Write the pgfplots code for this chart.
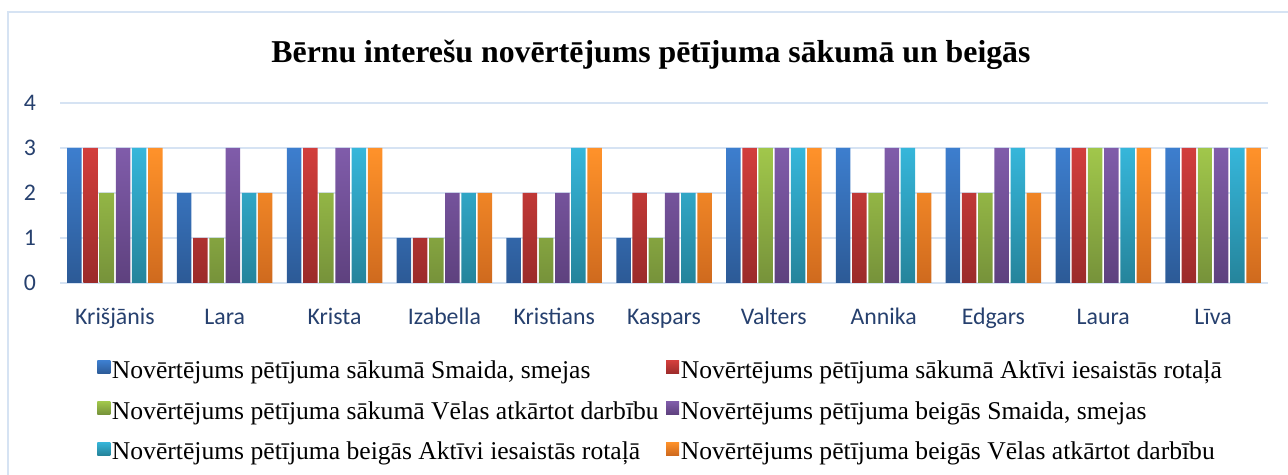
\documentclass[border=0pt]{standalone}
\usepackage{pgfplots}
\pgfplotsset{compat=1.18}
\usepackage{fontspec}
\setmainfont{Liberation Serif}
\newfontfamily\calfont{Carlito}
\definecolor{gridc}{RGB}{214,227,243}
\definecolor{labc}{RGB}{38,64,110}
\definecolor{bT}{RGB}{61,126,206}\definecolor{bB}{RGB}{44,90,150}
\definecolor{rT}{RGB}{210,62,60}\definecolor{rB}{RGB}{155,43,42}
\definecolor{gT}{RGB}{161,199,75}\definecolor{gB}{RGB}{118,146,58}
\definecolor{pT}{RGB}{128,92,170}\definecolor{pB}{RGB}{94,65,126}
\definecolor{cT}{RGB}{54,182,218}\definecolor{cB}{RGB}{37,132,155}
\definecolor{oT}{RGB}{255,146,42}\definecolor{oB}{RGB}{207,106,30}
\pgfplotsset{
  mybar/.style={draw=none, top color=#1T, bottom color=#1B},
}
\begin{document}
\begin{tikzpicture}
\useasboundingbox (0,0) rectangle (644pt,237.5pt);
\draw[gridc, line width=1pt] (4pt,-2pt) -- (4pt,231.5pt) -- (646pt,231.5pt);
\node[font=\bfseries\fontsize{15.9}{18}\selectfont] at (325.5pt,210pt) {Bērnu interešu novērtējums pētījuma sākumā un beigās};
\begin{axis}[
  at={(30pt,96pt)}, anchor=south west,
  scale only axis, width=604pt, height=90pt,
  xmin=-0.5, xmax=10.5, ymin=0, ymax=4,
  ytick={0,1,2,3,4}, xtick={0,...,10},
  xticklabels={Krišjānis,Lara,Krista,Izabella,Kristians,Kaspars,Valters,Annika,Edgars,Laura,Līva},
  /pgf/number format/assume math mode=true,
  ybar=0.85pt, bar width=7.25pt,
  axis line style={draw=none},
  major tick length=0pt,
  ymajorgrids, grid style={gridc, line width=1pt},
  tick label style={font=\calfont\fontsize{11.9}{14}\selectfont, text=labc},
  xticklabel style={anchor=center, yshift=-18pt, text height=8.2pt, text depth=2.6pt},
  yticklabel style={anchor=center, xshift=-15pt},
  every axis plot post/.append style={legend image code/.code={\path[##1,draw=none] (0pt,-0.6pt) rectangle (6.5pt,5.9pt);}},
  legend columns=2,
  legend cell align=left,
  legend style={at={(0.0306,-0.42)}, anchor=north west, draw=none, fill=none, inner sep=0pt,
    font=\fontsize{12.8}{14}\selectfont, row sep=6.7pt,
    nodes={inner sep=0.8pt, text height=9pt, text depth=3pt},
    /tikz/every even column/.append style={column sep=3pt}},
]
\addplot[mybar=b] coordinates {(0,3)(1,2)(2,3)(3,1)(4,1)(5,1)(6,3)(7,3)(8,3)(9,3)(10,3)};
\addplot[mybar=r] coordinates {(0,3)(1,1)(2,3)(3,1)(4,2)(5,2)(6,3)(7,2)(8,2)(9,3)(10,3)};
\addplot[mybar=g] coordinates {(0,2)(1,1)(2,2)(3,1)(4,1)(5,1)(6,3)(7,2)(8,2)(9,3)(10,3)};
\addplot[mybar=p] coordinates {(0,3)(1,3)(2,3)(3,2)(4,2)(5,2)(6,3)(7,3)(8,3)(9,3)(10,3)};
\addplot[mybar=c] coordinates {(0,3)(1,2)(2,3)(3,2)(4,3)(5,2)(6,3)(7,3)(8,3)(9,3)(10,3)};
\addplot[mybar=o] coordinates {(0,3)(1,2)(2,3)(3,2)(4,3)(5,2)(6,3)(7,2)(8,2)(9,3)(10,3)};
\legend{{Novērtējums pētījuma sākumā Smaida, smejas},
{Novērtējums pētījuma sākumā Aktīvi iesaistās rotaļā},
{Novērtējums pētījuma sākumā Vēlas atkārtot darbību},
{Novērtējums pētījuma beigās Smaida, smejas},
{Novērtējums pētījuma beigās Aktīvi iesaistās rotaļā},
{Novērtējums pētījuma beigās Vēlas atkārtot darbību}}
\end{axis}
\end{tikzpicture}
\end{document}
